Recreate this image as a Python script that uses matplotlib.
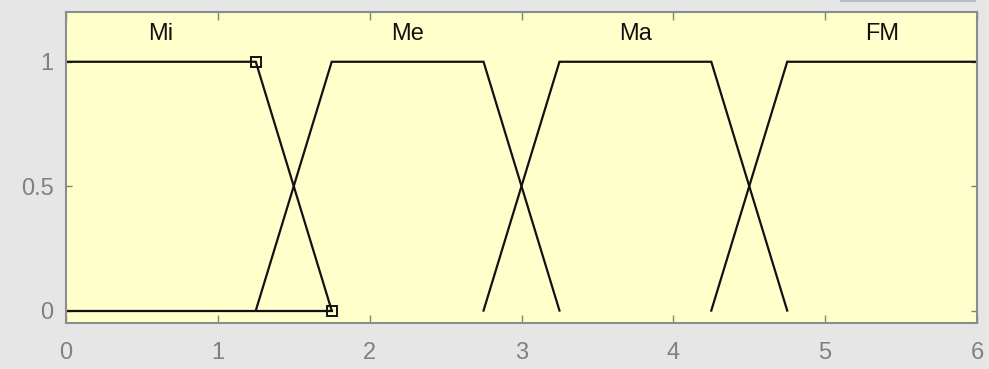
import matplotlib
matplotlib.use("Agg")
import matplotlib.pyplot as plt
from matplotlib.patches import Rectangle

# Membership function names and trapezoid breakpoints (x, membership)
mf_names = ["Mi", "Me", "Ma", "FM"]
mf_label_x = [0.625, 2.25, 3.75, 5.375]
mi_x = [0.0, 1.25, 1.75]
mi_y = [1.0, 1.0, 0.0]
me_x = [1.25, 1.75, 2.75, 3.25]
me_y = [0.0, 1.0, 1.0, 0.0]
ma_x = [2.75, 3.25, 4.25, 4.75]
ma_y = [0.0, 1.0, 1.0, 0.0]
fm_x = [4.25, 4.75, 6.0]
fm_y = [0.0, 1.0, 1.0]
base_x = [0.0, 1.75]
base_y = [0.0, 0.0]
marker_x = [1.25, 1.75]
marker_y = [1.0, 0.0]

x_ticks = [0, 1, 2, 3, 4, 5, 6]
y_ticks = [0, 0.5, 1]
y_tick_labels = ["0", "0.5", "1"]

plt.rcParams["font.family"] = ["Liberation Sans", "DejaVu Sans"]

fig = plt.figure(figsize=(9.89, 3.69), dpi=100, facecolor="#e6e6e6")
ax = fig.add_axes([66 / 989, 1 - 323 / 369, (977 - 66) / 989, (323 - 12) / 369])
ax.set_facecolor("#ffffcc")

line_kw = dict(color="#111111", lw=1.6, solid_joinstyle="miter")
ax.plot(base_x, base_y, **line_kw)
ax.plot(mi_x, mi_y, **line_kw)
ax.plot(me_x, me_y, **line_kw)
ax.plot(ma_x, ma_y, **line_kw)
ax.plot(fm_x, fm_y, **line_kw)
ax.plot(marker_x, marker_y, ls="none", marker="s", ms=6.5,
        mfc="none", mec="#111111", mew=1.4)

for name, lx in zip(mf_names, mf_label_x):
    ax.text(lx, 1.11, name, ha="center", va="center", fontsize=17, color="#111111")

ax.set_xlim(0, 6)
ax.set_ylim(-0.05, 1.2)
ax.set_xticks(x_ticks)
ax.set_xticklabels([str(t) for t in x_ticks])
ax.set_yticks(y_ticks)
ax.set_yticklabels(y_tick_labels)
ax.tick_params(direction="in", width=1, color="#808080",
               labelcolor="#808080", labelsize=17, top=True, right=True)
ax.tick_params(axis="x", length=6, pad=14)
ax.tick_params(axis="y", length=4, pad=9)
for s in ax.spines.values():
    s.set_color("#8c8c8c")
    s.set_linewidth(1.5)

# thin toolbar strip along the top right edge of the window
fig.patches.append(Rectangle((840 / 989, 1 - 2 / 369), 136 / 989, 2 / 369,
                             transform=fig.transFigure, facecolor="#b8bcc4",
                             edgecolor="none"))

fig.savefig("out.png", dpi=100, facecolor=fig.get_facecolor())
